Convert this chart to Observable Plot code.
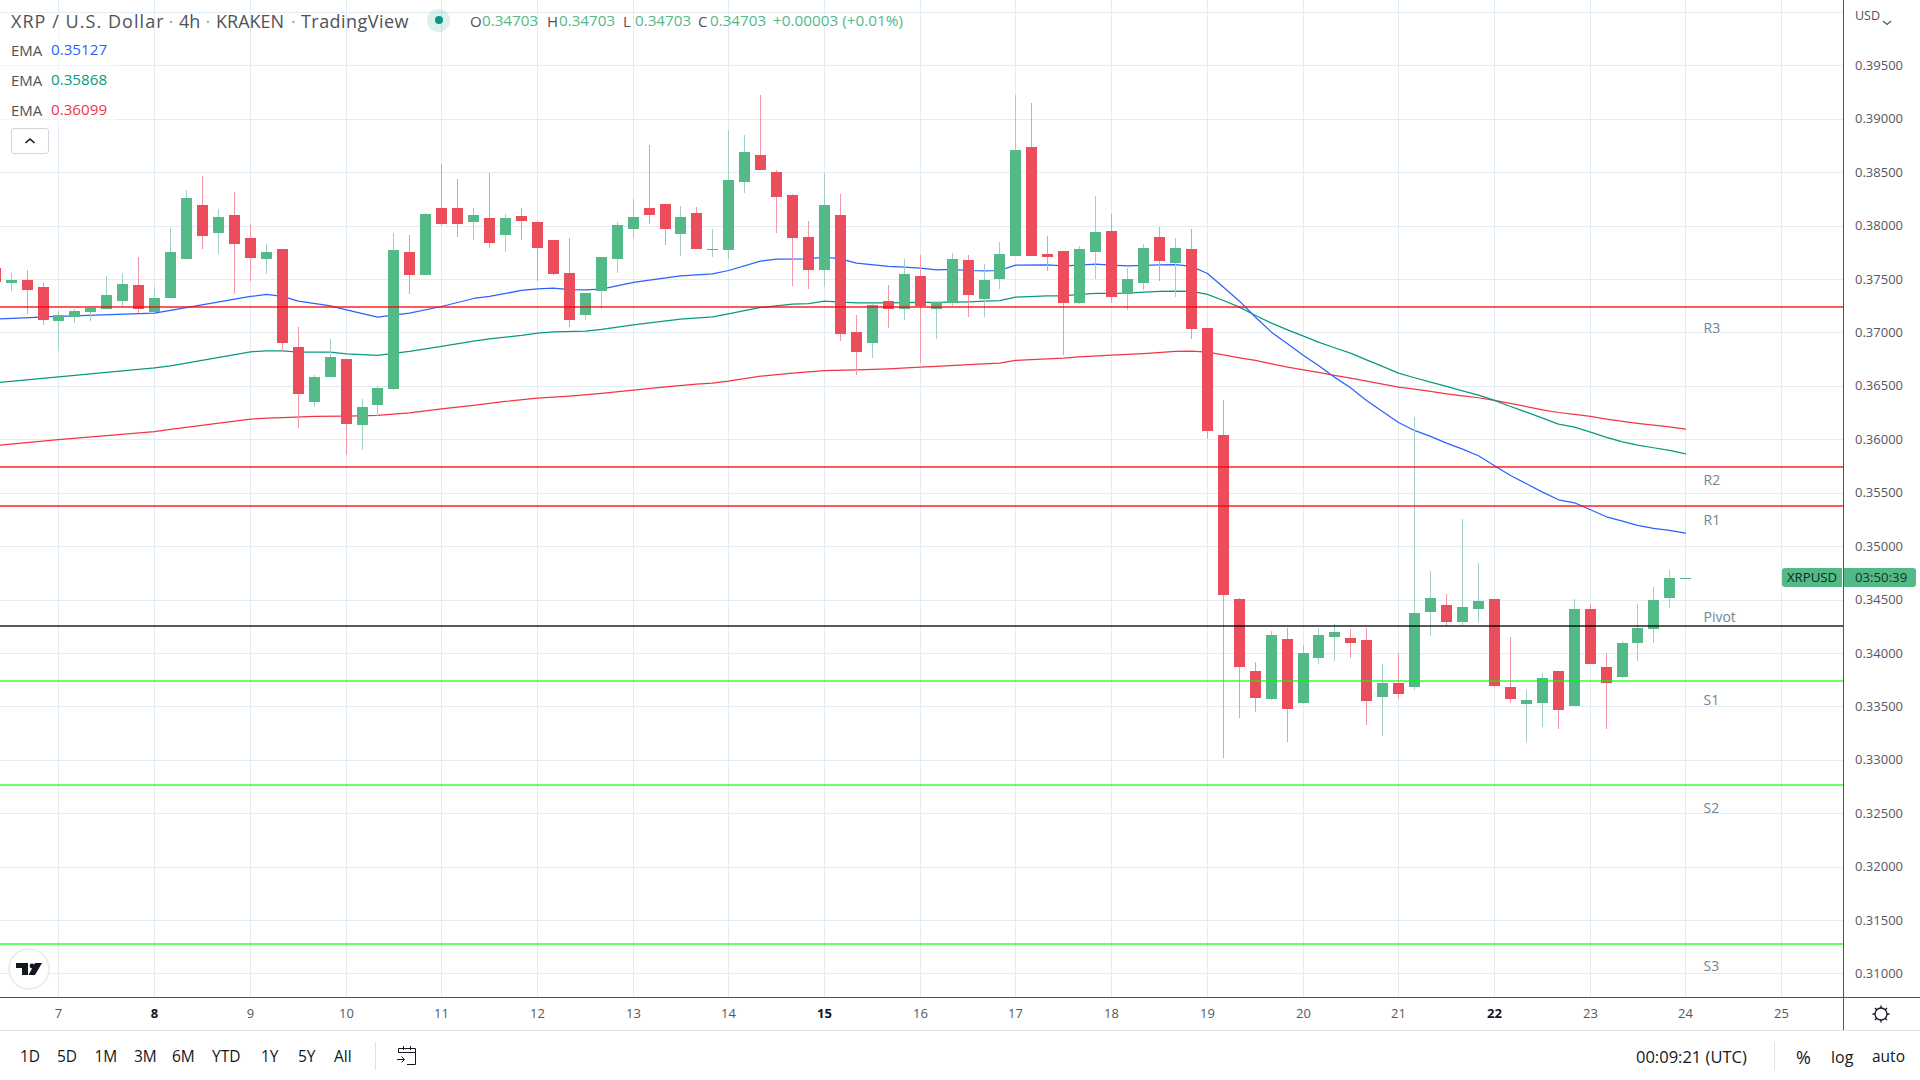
<!DOCTYPE html>
<html><head><meta charset="utf-8">
<script src="https://cdn.jsdelivr.net/npm/d3@7"></script>
<script src="https://cdn.jsdelivr.net/npm/@observablehq/plot@0.6"></script>
<style>
html,body{margin:0;padding:0;background:#fff;width:1920px;height:1080px;overflow:hidden}
#wrap{position:relative;width:1920px;height:1080px;font-family:"Open Sans",sans-serif;color:#131722}
#chart{position:absolute;left:0;top:0}
.t{position:absolute;white-space:nowrap;line-height:1;transform:translateY(-50%)}
.box{position:absolute}
</style></head><body><div id="wrap"><div id="chart"></div></div>
<script>
// 4h candles: first bar sits 4 bars before day 7 00:00
const barsBeforeDay7 = 4;
const barsPerDay = 6;
const opens = [
.37603,.37463,.37491,.37425,.37107,.37144,.37191,.37219,.37294,.37444,
.37191,.37322,.37687,.38193,.37931,.38099,.37884,.37687,.37781,.36863,
.36349,.36583,.36751,.36133,.36321,.36470,.37753,.37537,.38165,.38165,
.38034,.38071,.37912,.38090,.38034,.37865,.37556,.37163,.37388,.37687,
.37968,.38165,.38202,.37921,.38118,.37771,.37771,.38408,.38661,.38501,
.38286,.37893,.37584,.38099,.37004,.36901,.37294,.37219,.37528,.37219,
.37275,.37678,.37313,.37500,.37715,.38735,.37734,.37762,.37275,.37753,
.37949,.37360,.37463,.37893,.37650,.37781,.37041,.36040,.34505,.33831,
.33569,.34131,.33532,.33953,.34149,.34140,.34121,.33588,.33719,.33681,
.34383,.34449,.34290,.34411,.34505,.33681,.33522,.33532,.33831,.33504,
.34412,.33869,.33775,.34094,.34225,.34515,.34695];
const highs = [
.37603,.37556,.37584,.37463,.37200,.37219,.37247,.37528,.37556,.37706,
.37425,.37977,.38333,.38464,.38155,.38314,.38015,.37828,.37781,.37051,
.36601,.36938,.36751,.36377,.36498,.37931,.37912,.38118,.38576,.38436,
.38165,.38492,.38108,.38165,.38043,.37865,.37884,.37369,.37706,.38034,
.38249,.38754,.38202,.38183,.38174,.37968,.38895,.38848,.39222,.38520,
.38296,.38043,.38492,.38296,.37163,.37266,.37444,.37687,.37725,.37285,
.37743,.37725,.37640,.37846,.39222,.39147,.37902,.37762,.37809,.38277,
.38108,.37603,.37828,.37987,.37884,.37968,.37041,.36368,.34514,.33915,
.34205,.34234,.34074,.34234,.34271,.34224,.34234,.33897,.33999,.36208,
.34767,.34552,.35254,.34842,.34505,.34149,.33653,.33812,.33831,.34505,
.34459,.33999,.34112,.34459,.34618,.34777,.34703];
const lows = [
.37472,.37388,.37172,.37069,.36826,.37088,.37107,.37219,.37238,.37182,
.37191,.37322,.37687,.37781,.37734,.37360,.37481,.37547,.36826,.36105,
.36302,.36583,.35853,.35899,.36218,.36461,.37360,.37537,.37996,.37893,
.37865,.37790,.37753,.37865,.37481,.37537,.37051,.37116,.37219,.37556,
.37884,.38015,.37818,.37715,.37781,.37706,.37687,.38305,.38520,.37931,
.37434,.37406,.37425,.36920,.36601,.36761,.37041,.37116,.36714,.36938,
.37247,.37144,.37144,.37406,.37715,.37715,.37575,.36789,.37266,.37500,
.37275,.37210,.37397,.37481,.37331,.36938,.36003,.33017,.33391,.33447,
.33560,.33166,.33522,.33897,.33925,.33953,.33326,.33223,.33569,.33653,
.34159,.34252,.34262,.34290,.33681,.33532,.33166,.33307,.33289,.33504,
.33897,.33289,.33766,.33925,.34094,.34421,.34695];
const closes = [
.37472,.37491,.37397,.37116,.37163,.37200,.37229,.37350,.37453,.37219,
.37322,.37753,.38258,.37902,.38080,.37828,.37697,.37753,.36901,.36424,
.36583,.36770,.36143,.36302,.36480,.37771,.37537,.38108,.38015,.38015,
.38099,.37837,.38071,.38043,.37790,.37547,.37116,.37369,.37706,.38005,
.38080,.38099,.37968,.38080,.37781,.37781,.38427,.38689,.38520,.38267,
.37884,.37584,.38193,.36985,.36817,.37257,.37219,.37547,.37247,.37285,
.37687,.37350,.37491,.37734,.38707,.37715,.37706,.37275,.37781,.37940,
.37331,.37500,.37790,.37668,.37790,.37032,.36077,.34542,.33868,.33578,
.34168,.33475,.33999,.34168,.34196,.34093,.33550,.33719,.33616,.34374,
.34514,.34290,.34430,.34486,.33691,.33569,.33560,.33766,.33466,.34412,
.33897,.33719,.34094,.34234,.34496,.34702,.34703];

// EMA samples: bar index after day 7 00:00, and value
const emaBlueBars = [-4,0,6,7,12,13,14,15,17,18,20,22,24,26,27,29,30,31,32,33,34,36,37,39,41,42,44,45,47,48,49,50,52,53,54,55,56,57,58,59,60,62,63,64,65,66,67,68,69,70,71,72,73,74,75,76,77,78,79,80,81,82,83,84,85,86,87,88,89,90,91,92,93,94,95,96,97,98,99,100,101,102];
const emaBlueValues = [.37129,.37154,.37185,.37210,.37341,.37360,.37341,.37297,.37253,.37216,.37147,.37185,.37247,.37322,.37341,.37397,.37413,.37419,.37406,.37403,.37409,.37472,.37494,.37534,.37553,.37584,.37672,.37690,.37693,.37709,.37693,.37653,.37622,.37615,.37606,.37590,.37594,.37584,.37581,.37584,.37634,.37637,.37628,.37634,.37644,.37634,.37628,.37631,.37637,.37640,.37622,.37556,.37428,.37297,.37147,.37007,.36898,.36789,.36695,.36586,.36486,.36368,.36265,.36162,.36087,.36031,.35968,.35912,.35850,.35756,.35666,.35588,.35510,.35438,.35410,.35345,.35279,.35239,.35198,.35170,.35151,.35127];
const emaGreenBars = [-4,0,6,7,12,13,14,15,17,18,20,22,24,26,27,29,30,31,33,34,36,37,39,41,42,44,46,47,48,49,50,52,54,55,56,57,58,59,60,62,63,64,65,66,67,68,69,70,71,72,73,74,75,76,77,78,79,80,81,82,83,84,85,86,87,88,89,90,91,92,93,94,95,96,97,98,99,100,101,102];
const emaGreenValues = [.36533,.36589,.36673,.36692,.36823,.36832,.36832,.36820,.36820,.36804,.36789,.36826,.36873,.36923,.36945,.36976,.36998,.37010,.37016,.37032,.37076,.37094,.37129,.37150,.37178,.37238,.37269,.37275,.37297,.37288,.37282,.37282,.37285,.37285,.37288,.37291,.37297,.37303,.37335,.37347,.37347,.37360,.37369,.37369,.37372,.37381,.37388,.37391,.37388,.37360,.37303,.37241,.37163,.37091,.37029,.36970,.36914,.36861,.36811,.36748,.36686,.36623,.36580,.36539,.36499,.36458,.36418,.36368,.36311,.36258,.36202,.36146,.36118,.36072,.36022,.35981,.35950,.35925,.35900,.35868];
const emaRedBars = [-4,0,6,7,12,13,14,16,18,20,22,24,26,28,30,32,34,36,38,40,41,42,44,46,48,50,52,54,55,57,59,60,62,63,64,66,68,70,71,72,73,74,75,76,77,78,79,80,81,82,83,84,85,86,87,88,89,90,91,92,93,94,95,96,97,98,99,100,101,102];
const emaRedValues = [.35946,.36002,.36077,.36096,.36193,.36202,.36208,.36218,.36221,.36227,.36252,.36289,.36321,.36358,.36389,.36408,.36433,.36464,.36495,.36520,.36530,.36548,.36595,.36623,.36648,.36654,.36664,.36679,.36686,.36704,.36717,.36742,.36757,.36764,.36776,.36792,.36807,.36826,.36829,.36820,.36795,.36767,.36742,.36711,.36680,.36655,.36630,.36602,.36577,.36549,.36520,.36492,.36474,.36452,.36430,.36411,.36393,.36368,.36340,.36311,.36280,.36255,.36237,.36218,.36193,.36171,.36153,.36137,.36121,.36099];

const levelNames = ["R3","R2","R1","Pivot","S1","S2","S3"];
const levelValues = [.37238,.35741,.35376,.34253,.33738,.32767,.31276];
const levelLabelValues = [.37041,.35619,.35244,.34337,.33561,.32549,.31071];
const levelStrokes = ["red","red","red","black","lime","lime","lime"];
const levelOpacities = [.65,.65,.65,.65,.6,.6,.6];
const levelLabelDay = 24.187;

const priceTicks = [.31,.315,.32,.325,.33,.335,.34,.345,.35,.355,.36,.365,.37,.375,.38,.385,.39,.395,.4];
const priceLabels = priceTicks.filter(v => v < .4);
const dayTicks = [7,8,9,10,11,12,13,14,15,16,17,18,19,20,21,22,23,24,25];
const boldDays = [8,15,22];
const xDomain = [6.389,25.653];
const yDomain = [.30777,.40111];

const green = "#53b987", red = "#eb4d5c", greenWick = "#a3cfc9", redWick = "#f497a5";
const gridColor = "#e3ecf2", axisColor = "#50535e", textColor = "#555862";

const bars = opens.map((open,k)=>({day:7+(k-barsBeforeDay7)/barsPerDay,open,high:highs[k],low:lows[k],close:closes[k],up:closes[k]>=opens[k]}));
const series = (idx,vals)=>idx.map((b,k)=>({day:7+b/barsPerDay,value:vals[k]}));
const levels = levelNames.map((name,k)=>({name,value:levelValues[k],labelValue:levelLabelValues[k],stroke:levelStrokes[k],opacity:levelOpacities[k]}));
const font = '"Open Sans",sans-serif';
const crisp = {shapeRendering:"crispEdges"};

const chart = Plot.plot({
  width:1920,height:1031,marginLeft:0,marginRight:76.5,marginTop:0,marginBottom:33.7,
  style:{fontFamily:font,fontSize:"13px",background:"transparent",overflow:"visible"},
  x:{domain:xDomain,range:[0,1843.5],round:true,label:null},
  y:{domain:yDomain,range:[997.3,0],label:null},
  marks:[
    Plot.gridY(priceTicks,{stroke:gridColor,strokeOpacity:1,strokeWidth:1,...crisp}),
    Plot.gridX(dayTicks,{stroke:gridColor,strokeOpacity:1,strokeWidth:1,...crisp}),
    Plot.line(series(emaRedBars,emaRedValues),{x:"day",y:"value",stroke:"#f23645",strokeWidth:1.25}),
    Plot.line(series(emaGreenBars,emaGreenValues),{x:"day",y:"value",stroke:"#089981",strokeWidth:1.25}),
    Plot.line(series(emaBlueBars,emaBlueValues),{x:"day",y:"value",stroke:"#2962ff",strokeWidth:1.25}),
    Plot.ruleX(bars,{x:"day",y1:"low",y2:"high",stroke:d=>d.up?greenWick:redWick,strokeWidth:1,...crisp}),
    Plot.ruleX(bars,{x:"day",y1:"open",y2:"close",stroke:d=>d.up?green:red,strokeWidth:11,...crisp}),
    ...levels.map(l=>Plot.ruleY([l.value],{stroke:l.stroke,strokeOpacity:l.opacity,strokeWidth:2,dy:-0.5,...crisp})),
    Plot.text(levels,{x:()=>levelLabelDay,y:"labelValue",text:"name",textAnchor:"start",fill:"#728497",fontSize:14}),
    Plot.axisY(priceLabels,{anchor:"right",tickSize:0,tickPadding:11,tickFormat:d=>d.toFixed(5),fill:textColor,fontSize:13,label:null}),
    Plot.axisX(dayTicks.filter(d=>!boldDays.includes(d)),{anchor:"bottom",tickSize:0,tickPadding:11,tickFormat:d=>String(d),fill:textColor,fontSize:13,label:null}),
    Plot.axisX(boldDays,{anchor:"bottom",tickSize:0,tickPadding:11,tickFormat:d=>String(d),fill:"#131722",fontWeight:"bold",fontSize:13,label:null}),
    Plot.ruleX([xDomain[1]],{stroke:axisColor,strokeWidth:1,insetBottom:-34,dx:-1,...crisp}),
    Plot.ruleY([yDomain[0]],{stroke:axisColor,strokeWidth:1,insetRight:-77,...crisp})
  ]
});
document.getElementById("chart").appendChild(chart);

const wrap = document.getElementById("wrap");
function text(str,x,y,size,color,extra){
  const e=document.createElement("div");e.className="t";e.textContent=str;
  e.style.cssText=`left:${x}px;top:${y}px;font-size:${size}px;color:${color};${extra||""}`;wrap.appendChild(e);return e;
}
function box(x,y,w,h,css){
  const e=document.createElement("div");e.className="box";
  e.style.cssText=`left:${x}px;top:${y}px;width:${w}px;height:${h}px;${css||""}`;wrap.appendChild(e);return e;
}
// legend
const legendText="#4f5258";
box(0,14,116,111,"background:rgba(255,255,255,.55)");
text("XRP / U.S. Dollar",11,21,18,legendText,"letter-spacing:1.05px");
text("·",168.5,21,18,"#9aa0a8");
text("4h",179,21,18,legendText);
text("·",205.5,21,18,"#9aa0a8");
text("KRAKEN",216,21,18,legendText);
text("·",291,21,18,"#9aa0a8");
text("TradingView",301,21,18,legendText,"letter-spacing:.45px");
box(427,9,23,23,"border-radius:50%;background:rgba(8,153,129,.14)");
box(434.5,16,8,8,"border-radius:50%;background:#089981");
[["O",470],["H",547],["L",623],["C",698]].forEach(([k,x])=>{
  text(k,x,21,15,legendText);
  text("0.34703",x+12,21,15.2,green);
});
text("+0.00003 (+0.01%)",773,21,15.3,green);
[["0.35127","#2962ff",50],["0.35868","#089981",80],["0.36099","#f23645",110]].forEach(([v,c,y])=>{
  text("EMA",11,y,15,legendText);
  text(v,51,y,15.2,c);
});
const btn=box(11,128,36,24,"border:1px solid #d1d4dc;border-radius:3px;background:#fff;box-sizing:content-box");
btn.innerHTML='<svg width="36" height="24"><path d="M13.5 14 L18 10 L22.5 14" fill="none" stroke="#131722" stroke-width="1.6"/></svg>';
// logo
const logo=box(8,948,42,42,"");
logo.innerHTML='<svg width="42" height="42"><circle cx="21" cy="21" r="20" fill="#fff" stroke="#e8eaee" stroke-width="1.5"/><path d="M8 15 H20 V27 H14 V20 H8 Z M27 15 H34 L27 27 H20.5 Z" fill="#131722"/><circle cx="24" cy="18" r="2.4" fill="#131722"/></svg>';
// usd
text("USD",1855,16,12.5,"#4f5258");
const ch=box(1882,10,10,8,"");ch.innerHTML='<svg width="10" height="8"><path d="M1 2 L5 5.5 L9 2" fill="none" stroke="#4f5258" stroke-width="1.2"/></svg>';
// last price tags
box(1782,568,60,19,"background:#53b987;border-radius:3px 0 0 3px");
box(1843.5,568,72.5,19,"background:#53b987;border-radius:0 3px 3px 0");
text("XRPUSD",1787,577.5,13.2,"#0f2a1e");
text("03:50:39",1855,577.5,13.2,"#17352a");
// bottom bar
box(0,1030,1920,1,"background:#e0e3eb");
[["1D",20],["5D",57],["1M",94.5],["3M",134],["6M",172],["YTD",212],["1Y",261],["5Y",298],["All",334]].forEach(([s,x])=>text(s,x,1056.5,15.5,"#131722"));
box(375,1042,1,28,"background:#e0e3eb");
const cal=box(395,1043,24,24,"");
cal.innerHTML='<svg width="24" height="24" fill="none" stroke="#131722" stroke-width="1"><path d="M3.5 10 V5.5 H20.5 V21.5 H12 M3.5 9.5 H20.5 M8.5 3 V7 M15.5 3 V7 M2 16.5 H9 M6.5 13.5 L9.5 16.5 L6.5 19.5"/></svg>';
text("00:09:21 (UTC)",1636,1056.5,16.5,"#131722");
box(1774,1042,1,28,"background:#e0e3eb");
text("%",1796,1056.5,18,"#131722");
text("log",1831,1056.5,16,"#131722");
text("auto",1872,1056.5,15.5,"#131722");
const gear=box(1870,1003,22,22,"");
gear.innerHTML='<svg width="22" height="22" fill="none" stroke="#131722" stroke-width="1.3"><circle cx="11" cy="11" r="6"/><path d="M11 2.5 V5 M11 17 V19.5 M2.5 11 H5 M17 11 H19.5 M5 5 L6.8 6.8 M15.2 15.2 L17 17 M17 5 L15.2 6.8 M6.8 15.2 L5 17"/></svg>';
</script></body></html>
